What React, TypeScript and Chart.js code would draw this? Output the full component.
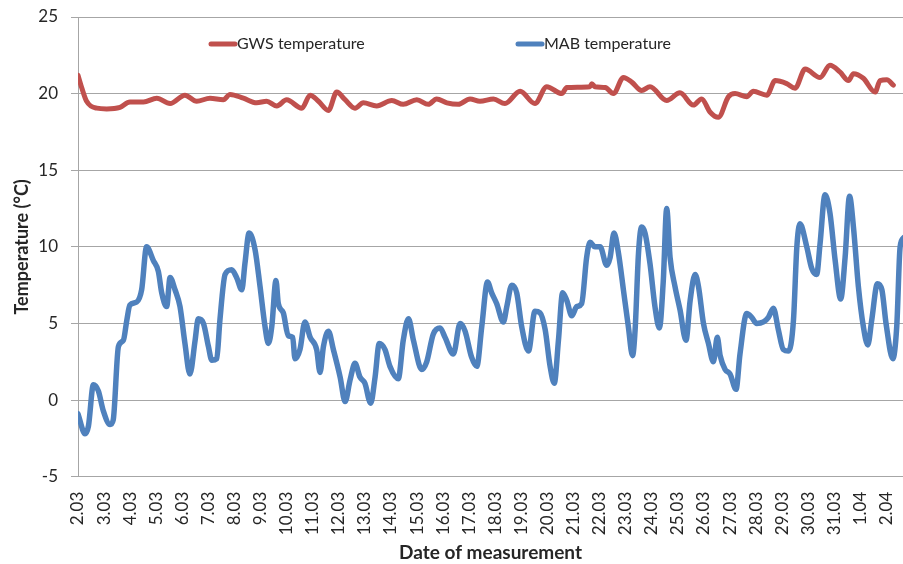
import { useEffect, useRef } from 'react';
import { Chart, registerables } from 'chart.js';

Chart.register(...registerables);

const dayLabels = [
  '2.03', '3.03', '4.03', '5.03', '6.03', '7.03', '8.03', '9.03', '10.03', '11.03',
  '12.03', '13.03', '14.03', '15.03', '16.03', '17.03', '18.03', '19.03', '20.03', '21.03',
  '22.03', '23.03', '24.03', '25.03', '26.03', '27.03', '28.03', '29.03', '30.03', '31.03',
  '1.04', '2.04',
];

// day offset from 2.03 (fractional days) and temperature
const gwsDays = [
  0, 0.14, 0.33, 0.72, 1.1, 1.61, 1.99, 2.51, 3.02, 3.53, 4.1, 4.55, 5.06, 5.57, 5.83, 6.34,
  6.85, 7.23, 7.62, 8.0, 8.58, 8.9, 9.22, 9.6, 9.92, 10.24, 10.62, 10.94, 11.45, 12.03, 12.47,
  12.99, 13.43, 13.75, 14.14, 14.58, 15.03, 15.41, 15.93, 16.37, 16.95, 17.52, 17.97, 18.55,
  18.74, 19.63, 19.7, 19.82, 20.21, 20.53, 20.91, 21.23, 21.61, 21.93, 22.57, 23.08, 23.59,
  23.91, 24.23, 24.55, 24.94, 25.19, 25.64, 25.89, 26.41, 26.73, 27.17, 27.49, 27.88, 28.45,
  28.83, 29.22, 29.54, 29.73, 30.11, 30.56, 30.75, 31.01, 31.26,
];
const gwsTemps = [
  21.2, 20.4, 19.5, 19.05, 19.0, 19.1, 19.45, 19.45, 19.7, 19.35, 19.9, 19.5, 19.7, 19.6, 19.95, 19.7,
  19.4, 19.5, 19.2, 19.6, 19.05, 19.9, 19.5, 18.9, 20.1, 19.6, 19.05, 19.4, 19.2, 19.55, 19.3,
  19.6, 19.3, 19.65, 19.4, 19.3, 19.65, 19.5, 19.65, 19.35, 20.15, 19.35, 20.45, 20.0,
  20.4, 20.45, 20.65, 20.45, 20.4, 20.0, 21.05, 20.75, 20.2, 20.45, 19.55, 20.05, 19.25,
  19.65, 18.8, 18.45, 19.8, 20.0, 19.8, 20.15, 19.9, 20.85, 20.65, 20.35, 21.6, 21.05,
  21.85, 21.4, 20.85, 21.3, 21.0, 20.1, 20.85, 20.9, 20.55,
];

const mabDays = [
  0, 0.27, 0.4, 0.59, 0.78, 0.97, 1.23, 1.35, 1.55, 1.74, 1.87, 1.99, 2.25, 2.44, 2.63, 2.89,
  3.08, 3.21, 3.4, 3.53, 3.72, 3.91, 4.1, 4.29, 4.49, 4.61, 4.81, 5.0, 5.13, 5.32, 5.44, 5.64,
  5.89, 6.08, 6.28, 6.4, 6.56, 6.79, 6.98, 7.17, 7.3, 7.43, 7.59, 7.68, 7.87, 8.06, 8.23, 8.32,
  8.51, 8.7, 8.9, 9.15, 9.28, 9.41, 9.6, 9.79, 10.05, 10.24, 10.43, 10.62, 10.81, 11.0, 11.22,
  11.39, 11.55, 11.77, 11.96, 12.28, 12.47, 12.67, 12.86, 13.18, 13.37, 13.62, 13.88, 14.07,
  14.39, 14.65, 14.84, 15.09, 15.29, 15.48, 15.7, 15.86, 16.05, 16.31, 16.44, 16.63, 16.82,
  17.01, 17.27, 17.52, 17.71, 17.91, 18.1, 18.26, 18.42, 18.58, 18.74, 18.93, 19.12, 19.31,
  19.5, 19.63, 19.82, 20.02, 20.27, 20.4, 20.55, 20.72, 20.91, 21.1, 21.26, 21.36, 21.49,
  21.61, 21.74, 21.93, 22.12, 22.29, 22.44, 22.57, 22.7, 22.89, 23.08, 23.31, 23.47, 23.66,
  23.79, 23.98, 24.17, 24.36, 24.51, 24.62, 24.81, 25.0, 25.23, 25.38, 25.64, 25.83, 26.02,
  26.28, 26.47, 26.66, 26.85, 27.04, 27.24, 27.43, 27.56, 27.68, 27.94, 28.13, 28.32, 28.45,
  28.64, 28.83, 29.03, 29.24, 29.41, 29.58, 29.73, 29.92, 30.11, 30.28, 30.43, 30.65, 30.82,
  30.98, 31.24, 31.39, 31.52, 31.66,
];
const mabTemps = [
  -0.9, -2.2, -1.7, 1.0, 0.6, -0.7, -1.6, -1.3, 3.5, 3.9, 5.2, 6.2, 6.4, 7.2, 10.0, 9.1,
  8.4, 7.0, 6.1, 8.0, 7.2, 6.1, 3.7, 1.7, 3.9, 5.3, 5.0, 3.5, 2.6, 2.7, 5.2, 8.2,
  8.5, 8.0, 7.2, 8.9, 10.9, 9.8, 7.4, 4.8, 3.7, 4.8, 7.8, 6.3, 5.7, 4.2, 4.1, 2.7,
  3.3, 5.1, 4.1, 3.3, 1.8, 3.5, 4.5, 3.3, 1.5, -0.1, 1.3, 2.4, 1.5, 1.1, -0.2,
  1.5, 3.7, 3.3, 2.2, 1.4, 3.9, 5.3, 3.9, 2.0, 2.5, 4.3, 4.7, 4.1,
  3.0, 5.0, 4.5, 2.8, 2.2, 4.8, 7.7, 7.0, 6.3, 5.1, 6.1, 7.5, 7.0,
  4.8, 3.2, 5.8, 5.7, 4.6, 2.2, 1.1, 3.9, 7.0, 6.5, 5.5, 6.1, 6.3,
  9.3, 10.3, 10.0, 10.0, 8.8, 9.3, 10.9, 9.6, 7.2, 4.8, 2.9, 4.6, 9.6,
  11.3, 10.9, 8.9, 6.1, 4.7, 7.8, 12.5, 9.3, 7.4, 5.9, 3.9, 6.5, 8.2,
  7.4, 5.0, 3.7, 2.5, 4.1, 2.9, 2.0, 1.7, 0.7, 3.0, 5.65, 5.4, 5.0,
  5.1, 5.4, 6.0, 4.6, 3.3, 3.2, 5.2, 10.0, 11.5, 10.0, 8.6, 8.2, 10.2,
  13.4, 12.2, 9.1, 6.6, 9.3, 13.3, 11.3, 7.4, 4.8, 3.6, 5.2, 7.6, 7.2,
  5.0, 2.7, 4.8, 10.0, 10.6,
];

const seriesNames = ['GWS temperature', 'MAB temperature'];
const RED = '#C0504D';
const BLUE = '#4F81BD';
const GRID = '#a6a6a6';
const TEXT = '#262626';
const FONT = 'Lato, "Open Sans", sans-serif';

export default function App() {
  const ref = useRef<HTMLCanvasElement>(null);

  useEffect(() => {
    const canvas = ref.current;
    if (!canvas) return;

    const inlineLegend = {
      id: 'inlineLegend',
      afterDraw(chart: any) {
        const { ctx, chartArea } = chart;
        const y = chartArea.top + 27;
        const starts = [chartArea.left + 133, chartArea.left + 440];
        ctx.save();
        chart.data.datasets.forEach((ds: any, i: number) => {
          const x = starts[i];
          ctx.strokeStyle = ds.borderColor;
          ctx.lineWidth = 5;
          ctx.lineCap = 'round';
          ctx.beginPath();
          ctx.moveTo(x, y);
          ctx.lineTo(x + 24, y);
          ctx.stroke();
          ctx.fillStyle = TEXT;
          ctx.font = `16px ${FONT}`;
          ctx.textAlign = 'left';
          ctx.textBaseline = 'middle';
          ctx.fillText(ds.label, x + 26, y);
        });
        ctx.restore();
      },
    };

    const chart = new Chart(canvas, {
      type: 'line',
      data: {
        datasets: [
          {
            label: seriesNames[0],
            data: gwsDays.map((d, i) => ({ x: d, y: gwsTemps[i] })),
            borderColor: RED,
            backgroundColor: RED,
            borderWidth: 5,
            pointRadius: 0,
            cubicInterpolationMode: 'monotone',
            borderCapStyle: 'round',
            borderJoinStyle: 'round',
            fill: false,
          },
          {
            label: seriesNames[1],
            data: mabDays.map((d, i) => ({ x: d, y: mabTemps[i] })),
            borderColor: BLUE,
            backgroundColor: BLUE,
            borderWidth: 5.5,
            pointRadius: 0,
            cubicInterpolationMode: 'monotone',
            borderCapStyle: 'round',
            borderJoinStyle: 'round',
            fill: false,
          },
        ],
      },
      options: {
        animation: false,
        responsive: false,
        devicePixelRatio: 1,
        layout: { padding: { top: 17, left: 0, right: 0, bottom: 0 } },
        plugins: { legend: { display: false }, tooltip: { enabled: false } },
        scales: {
          x: {
            type: 'linear',
            min: 0,
            max: 31.63,
            grid: { display: false, drawTicks: false },
            border: { display: true, color: GRID, width: 1 },
            ticks: {
              stepSize: 1,
              autoSkip: false,
              includeBounds: false,
              maxRotation: 90,
              minRotation: 90,
              padding: 15,
              color: TEXT,
              font: { family: FONT, size: 17 },
              callback: (v: any) => (Number.isInteger(v) ? dayLabels[v] ?? '' : ''),
            },
            title: {
              display: true,
              text: 'Date of measurement',
              color: TEXT,
              font: { family: FONT, size: 19, weight: 'bold' },
              padding: { top: 0, bottom: 0 },
            },
            afterFit: (s: any) => {
              s.height = 87.3;
              s.paddingLeft = 0;
              s.paddingRight = 0;
            },
          },
          y: {
            min: -5,
            max: 25,
            grid: { color: GRID, lineWidth: 1, tickLength: 7 },
            border: { display: true, color: GRID, width: 1 },
            ticks: {
              stepSize: 5,
              padding: 13,
              color: TEXT,
              font: { family: FONT, size: 17 },
            },
            title: {
              display: true,
              text: 'Temperature (°C)',
              color: TEXT,
              font: { family: FONT, size: 18, weight: 'bold' },
              padding: { top: 11, bottom: 0 },
            },
            afterFit: (s: any) => {
              s.width = 78;
              s.paddingTop = 0;
              s.paddingBottom = 0;
            },
          },
        },
      },
      plugins: [inlineLegend],
    } as any);

    return () => chart.destroy();
  }, []);

  return (
    <div style={{ position: 'fixed', left: 0, top: 0, width: 903, height: 564, background: '#fff' }}>
      <canvas ref={ref} width={903} height={564} />
    </div>
  );
}
